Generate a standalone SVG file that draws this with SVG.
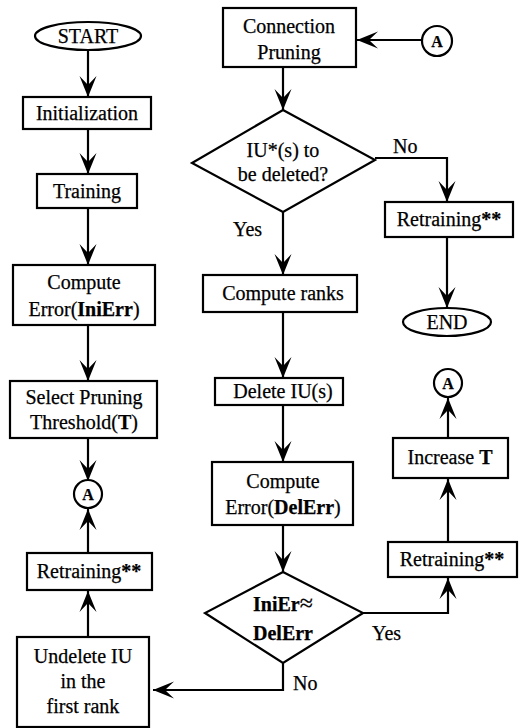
<svg xmlns="http://www.w3.org/2000/svg" width="523" height="728" viewBox="0 0 523 728">
<style>
.box{fill:#fff;stroke:#000;stroke-width:2.2}
text{font-family:'Liberation Serif','DejaVu Serif','Times New Roman',serif;font-size:20px;fill:#000;stroke:#000;stroke-width:0.25}
.t{text-anchor:middle}
.b{font-weight:bold}
.c{fill:none;stroke:#000;stroke-width:2.2}
</style>
<defs>
<marker id="ah" markerUnits="userSpaceOnUse" markerWidth="24" markerHeight="20" viewBox="-22 -10 24 20" refX="0" refY="0" orient="auto">
<path d="M0,0 L-21,-8.5 L-12,0 L-21,8.5 Z" fill="#000"/>
</marker>
</defs>
<rect width="523" height="728" fill="#fff"/>
<g id="connectors" class="c">
<path d="M88,50 V97" marker-end="url(#ah)"/>
<path d="M88,129 V174" marker-end="url(#ah)"/>
<path d="M88,208 V265" marker-end="url(#ah)"/>
<path d="M88,325 V381" marker-end="url(#ah)"/>
<path d="M88,438 V481" marker-end="url(#ah)"/>
<path d="M88,553 V509" marker-end="url(#ah)"/>
<path d="M88,637 V591" marker-end="url(#ah)"/>
<path d="M422,40 H357" marker-end="url(#ah)"/>
<path d="M283,67 V110" marker-end="url(#ah)"/>
<path d="M375,158 H447 V202" marker-end="url(#ah)"/>
<path d="M447,237 V308" marker-end="url(#ah)"/>
<path d="M283,212 V275" marker-end="url(#ah)"/>
<path d="M283,312 V378" marker-end="url(#ah)"/>
<path d="M283,405 V462" marker-end="url(#ah)"/>
<path d="M283,525 V572" marker-end="url(#ah)"/>
<path d="M363,613 H448 V578" marker-end="url(#ah)"/>
<path d="M448,542 V479" marker-end="url(#ah)"/>
<path d="M448,438 V398" marker-end="url(#ah)"/>
<path d="M283,663 V690 H153" marker-end="url(#ah)"/>
</g>
<g id="start"><ellipse class="box" cx="88" cy="36" rx="53" ry="14"/><text class="t" x="88" y="43">START</text></g>
<g id="init"><rect class="box" x="23" y="97" width="128" height="32"/><text class="t" x="87" y="120">Initialization</text></g>
<g id="training"><rect class="box" x="37" y="174" width="100" height="34"/><text class="t" x="87" y="198">Training</text></g>
<g id="compute-inierr"><rect class="box" x="13" y="265" width="142" height="60"/><text class="t" x="84" y="289">Compute</text><text class="t" x="84" y="316">Error(<tspan class="b">IniErr</tspan>)</text></g>
<g id="select-threshold"><rect class="box" x="10" y="381" width="147" height="57"/><text class="t" x="84" y="404">Select Pruning</text><text class="t" x="84" y="429">Threshold(<tspan class="b">T</tspan>)</text></g>
<g id="conn-a-left"><circle class="box" cx="88" cy="494" r="14"/><text class="t b" x="88" y="500" style="font-size:16px">A</text></g>
<g id="retraining-left"><rect class="box" x="27" y="553" width="125" height="37"/><text class="t" x="89" y="578">Retraining<tspan class="b">**</tspan></text></g>
<g id="undelete"><rect class="box" x="17" y="637" width="132" height="90"/><text class="t" x="83" y="663">Undelete IU</text><text class="t" x="83" y="688">in the</text><text class="t" x="83" y="713">first rank</text></g>
<g id="conn-pruning"><rect class="box" x="223" y="8" width="133" height="59"/><text class="t" x="289" y="33">Connection</text><text class="t" x="289" y="59">Pruning</text></g>
<g id="conn-a-top"><circle class="box" cx="437" cy="41" r="15"/><text class="t b" x="437" y="47" style="font-size:16px">A</text></g>
<g id="dec-delete"><polygon class="box" points="283,110 375,160 283,212 192,163"/><text class="t" x="283" y="157">IU*(s) to</text><text class="t" x="283" y="181">be deleted?</text></g>
<g id="retraining-top"><rect class="box" x="385" y="202" width="128" height="35"/><text class="t" x="449" y="226">Retraining<tspan class="b">**</tspan></text></g>
<g id="end"><ellipse class="box" cx="447" cy="322" rx="44" ry="14"/><text class="t" x="447" y="329">END</text></g>
<g id="compute-ranks"><rect class="box" x="203" y="275" width="154" height="37"/><text class="t" x="283" y="300">Compute ranks</text></g>
<g id="delete-iu"><rect class="box" x="215" y="378" width="128" height="27"/><text class="t" x="283" y="398">Delete IU(s)</text></g>
<g id="compute-delerr"><rect class="box" x="212" y="462" width="141" height="63"/><text class="t" x="283" y="488">Compute</text><text class="t" x="283" y="514">Error(<tspan class="b">DelErr</tspan>)</text></g>
<g id="dec-err"><polygon class="box" points="283,572 363,613 283,663 205,613"/><text class="t" x="283" y="611"><tspan class="b">IniEr</tspan><tspan style="font-size:24px">≈</tspan></text><text class="t b" x="283" y="640">DelErr</text></g>
<g id="retraining-right"><rect class="box" x="388" y="542" width="129" height="35"/><text class="t" x="452" y="566">Retraining<tspan class="b">**</tspan></text></g>
<g id="increase-t"><rect class="box" x="393" y="438" width="115" height="40"/><text class="t" x="450" y="464">Increase <tspan class="b">T</tspan></text></g>
<g id="conn-a-right"><circle class="box" cx="448" cy="383" r="14"/><text class="t b" x="448" y="389" style="font-size:16px">A</text></g>
<g id="labels">
<text x="393" y="153">No</text>
<text x="233" y="236">Yes</text>
<text x="372" y="640">Yes</text>
<text x="293" y="690">No</text>
</g>
</svg>
